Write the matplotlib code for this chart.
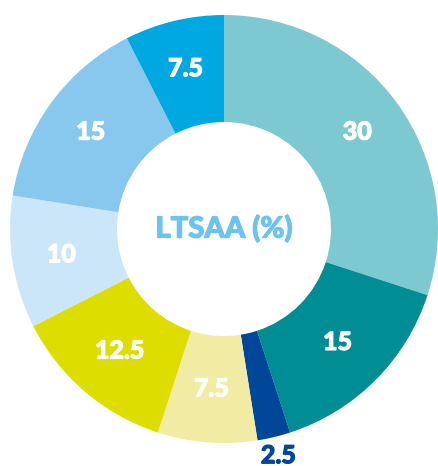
import numpy as np
import matplotlib
matplotlib.use("Agg")
import matplotlib.pyplot as plt
import matplotlib.patheffects as pe

values = [30, 15, 2.5, 7.5, 12.5, 10, 15, 7.5]
labels = ["30", "15", "2.5", "7.5", "12.5", "10", "15", "7.5"]
colors = ["#7CC9D1", "#008D93", "#00479A", "#F1EBA3", "#DDDD00",
          "#CBE6F8", "#88C8EF", "#00A8E1"]
label_colors = ["white", "white", "#00479A", "white", "white", "white", "white", "white"]
label_radius = [0.77, 0.75, 1.09, 0.75, 0.75, 0.77, 0.77, 0.77]
center_title = "LTSAA (%)"

W, H = 438, 466
cx, cy, R = 224, 229, 214

fig = plt.figure(figsize=(W / 100, H / 100), dpi=100)
ax = fig.add_axes([0, 0, 1, 1])

wedges, _ = ax.pie(values, colors=colors, startangle=90, counterclock=False,
                   radius=1.0, wedgeprops=dict(width=0.5, linewidth=0))

for w, lab, col, r in zip(wedges, labels, label_colors, label_radius):
    ang = np.deg2rad((w.theta1 + w.theta2) / 2)
    ax.text(r * np.cos(ang), r * np.sin(ang), lab, ha="center", va="center",
            color=col, fontsize=18, fontweight=900, family="Lato",
            path_effects=[pe.withStroke(linewidth=0.8, foreground=col)])

ax.text(0, 0, center_title, ha="center", va="center", color="#6BC4EE",
        fontsize=21, fontweight=900, family="Lato",
        path_effects=[pe.withStroke(linewidth=0.8, foreground="#6BC4EE")])

ax.set_xlim(-cx / R, (W - cx) / R)
ax.set_ylim(-(H - cy) / R, cy / R)
ax.set_aspect("auto")
ax.axis("off")

fig.savefig("out.png", dpi=100)
